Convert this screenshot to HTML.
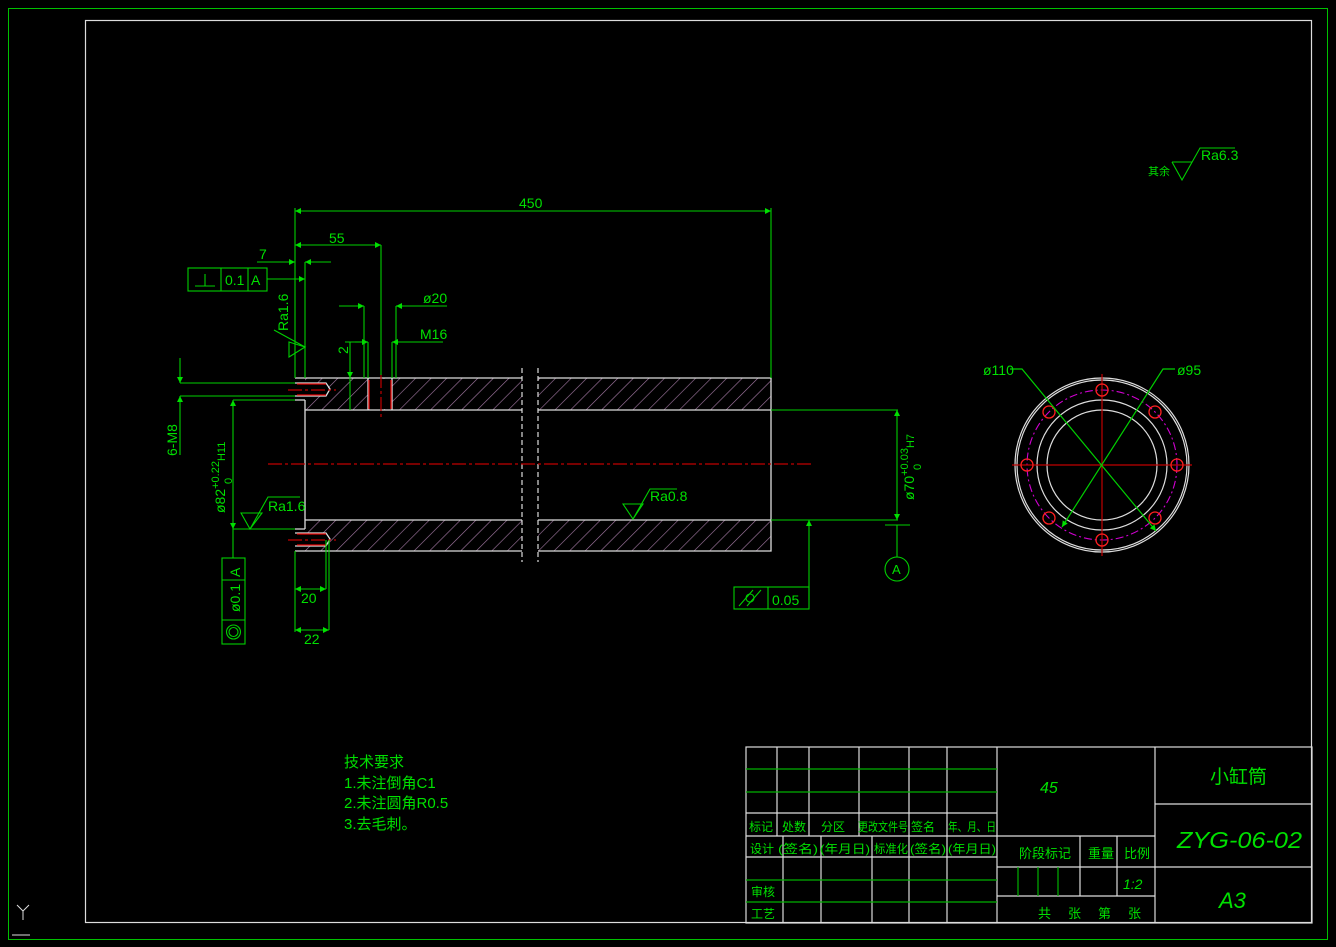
<!DOCTYPE html>
<html><head><meta charset="utf-8"><style>
html,body{margin:0;padding:0;background:#000;}
svg{display:block;}
text{font-family:"Liberation Sans","Noto Sans CJK SC",sans-serif;fill:#00e000;}
</style></head><body>
<svg width="1336" height="947" viewBox="0 0 1336 947" xmlns="http://www.w3.org/2000/svg">
<defs>
<pattern id="h" patternUnits="userSpaceOnUse" width="11" height="11" patternTransform="rotate(45)">
<line x1="0" y1="0" x2="0" y2="11" stroke="#a87ca8" stroke-width="1.2"/>
</pattern>
<marker id="a" viewBox="0 0 10 10" refX="10" refY="5" markerWidth="13" markerHeight="6" orient="auto-start-reverse" markerUnits="userSpaceOnUse"><path d="M0,0 L10,5 L0,10z" fill="#00e000"/></marker>
</defs>
<rect width="1336" height="947" fill="#000"/>
<rect x="8.5" y="8.5" width="1319" height="931" fill="none" stroke="#00c000" stroke-width="1"/>
<rect x="85.5" y="20.5" width="1226" height="902" fill="none" stroke="#ddd" stroke-width="1.2"/>
<g stroke="#ddd" stroke-width="1" fill="none"><path d="M17,905 L23,911 L29,905 M23,911 V920"/><path d="M12,935 H30"/></g>

<rect x="305" y="378" width="217" height="32" fill="url(#h)"/>
<rect x="538" y="378" width="233" height="32" fill="url(#h)"/>
<rect x="305" y="520" width="217" height="31" fill="url(#h)"/>
<rect x="538" y="520" width="233" height="31" fill="url(#h)"/>
<rect x="368" y="379" width="24" height="30" fill="#000"/>
<rect x="296" y="383" width="32" height="13" fill="#000"/>
<rect x="296" y="533" width="32" height="13" fill="#000"/>
<g stroke="#ddd" stroke-width="1.3" fill="none">
<path d="M295,378 H522 M538,378 H771 V551 H538 M522,551 H295 Z"/>
<path d="M305,400 V529 M305,410 H522 M538,410 H771 M305,520 H522 M538,520 H771"/>
<path d="M295,400 H305 M295,529 H305"/>
<path d="M368,378 V410 M392,378 V410"/>
<path d="M295,383 H326 L330,389 L326,396 H295 M295,533 H326 L330,539 L326,546 H295"/>
</g>
<g stroke="#ddd" stroke-width="1.2" stroke-dasharray="5,3"><path d="M522,368 V562 M538,368 V562"/></g>
<g stroke="#e00000" stroke-width="1.3">
<path d="M369,380 V409 M391,380 V409"/>
<path d="M297,384 H326 M297,395 H326 M297,534 H326 M297,545 H326"/>
</g>
<g stroke="#c00000" stroke-width="1.2" stroke-dasharray="14,3,3,3">
<path d="M268,464 H812"/><path d="M381,374 V418"/><path d="M288,390 H336 M288,540 H336"/>
</g>

<g stroke="#00d000" stroke-width="1.1" fill="none">
<path d="M295,208 V378 M771,208 V378"/>
<path d="M295,211 H771" marker-start="url(#a)" marker-end="url(#a)"/>
<path d="M295,245 H381" marker-start="url(#a)" marker-end="url(#a)"/>
<path d="M381,245 V375"/>
<path d="M257,262 H295" marker-end="url(#a)"/><path d="M331,262 H305" marker-end="url(#a)"/>
<path d="M305,262 V378"/>
<rect x="188" y="268" width="79" height="23"/><path d="M221,268 V291 M248,268 V291"/>
<path d="M195,286 H215 M205,274 V286"/>
<path d="M267,279 H305" marker-end="url(#a)"/>
<path d="M274,330 L305,347 M289,342 L305,347 L289,357 Z"/>
<path d="M339,306 H364" marker-end="url(#a)"/><path d="M447,306 H396" marker-end="url(#a)"/>
<path d="M364,306 V378 M396,306 V378"/>
<path d="M355,342 H368" marker-end="url(#a)"/><path d="M443,342 H392" marker-end="url(#a)"/>
<path d="M368,342 V378 M392,342 V378"/>
<path d="M345,342 H368"/>
<path d="M350,342 V378" marker-end="url(#a)"/><path d="M350,410 V378"/>
<path d="M180,358 V383" marker-end="url(#a)"/><path d="M180,455 V396" marker-end="url(#a)"/>
<path d="M180,383 H295 M180,396 H295"/>
<path d="M233,464 V400" marker-end="url(#a)"/><path d="M233,464 V529" marker-end="url(#a)"/>
<path d="M233,400 H295 M233,529 H295"/>
<path d="M233,529 V558"/>
<path d="M241,513 H262 L250,529 Z M250,529 L268,497 H300"/>
<rect x="222" y="558" width="23" height="86"/><path d="M222,580 H245 M222,620 H245"/>
<circle cx="233.5" cy="632" r="7"/><circle cx="233.5" cy="632" r="4.5"/>
<path d="M295,551 V632 M326,540 V589 M329,540 V630"/>
<path d="M295,589 H326" marker-start="url(#a)" marker-end="url(#a)"/>
<path d="M295,630 H329" marker-start="url(#a)" marker-end="url(#a)"/>
<path d="M771,410 H898 M771,520 H898"/>
<path d="M897,464 V410" marker-end="url(#a)"/><path d="M897,464 V520" marker-end="url(#a)"/>
<path d="M885,525 H910 M897,525 V557"/>
<circle cx="897" cy="569" r="12"/>
<path d="M809,600 V520" marker-end="url(#a)"/>
<rect x="734" y="587" width="75" height="22"/><path d="M768,587 V609"/>
<path d="M739,606 L753,590 M747,606 L761,590"/><circle cx="750" cy="598" r="4"/>
<path d="M623,504 H643 L633,519 Z M633,519 L650,489 H677"/>
<path d="M1172,162 L1182,180 L1200,148 H1235 M1172,162 H1192"/>
</g>
<g font-size="14">
<text x="519" y="208">450</text>
<text x="329" y="243">55</text>
<text x="259" y="259">7</text>
<text x="225" y="285">0.1</text>
<text x="251" y="285">A</text>
<text transform="translate(288,331) rotate(-90)">Ra1.6</text>
<text x="423" y="303">ø20</text>
<text x="420" y="339">M16</text>
<text transform="translate(348,354) rotate(-90)">2</text>
<text transform="translate(177,456) rotate(-90)">6-M8</text>
<text transform="translate(225,513) rotate(-90)">ø82<tspan font-size="11" dy="-6">+0.22</tspan><tspan font-size="11" dy="6">H11</tspan></text>
<text transform="translate(232,484) rotate(-90)" font-size="11">0</text>
<text x="268" y="511">Ra1.6</text>
<text transform="translate(240,612) rotate(-90)">ø0.1</text>
<text transform="translate(240,577) rotate(-90)">A</text>
<text x="301" y="603">20</text>
<text x="304" y="644">22</text>
<text transform="translate(914,500) rotate(-90)">ø70<tspan font-size="11" dy="-6">+0.03</tspan><tspan font-size="11" dy="6">H7</tspan></text>
<text transform="translate(921,470) rotate(-90)" font-size="11">0</text>
<text x="892" y="574" font-size="13">A</text>
<text x="772" y="605">0.05</text>
<text x="650" y="501">Ra0.8</text>
<text x="1201" y="160">Ra6.3</text>
<text x="1148" y="175" font-size="11">其余</text>
<text x="983" y="375">ø110</text>
<text x="1177" y="375">ø95</text>
</g>

<g fill="none">
<circle cx="1102" cy="465" r="87" stroke="#ddd" stroke-width="1.2"/>
<circle cx="1102" cy="465" r="85" stroke="#ddd" stroke-width="1.2"/>
<circle cx="1102" cy="465" r="65" stroke="#ddd" stroke-width="1.2"/>
<circle cx="1102" cy="465" r="55" stroke="#ddd" stroke-width="1.2"/>
<circle cx="1102" cy="465" r="75" stroke="#d000d0" stroke-width="1.1" stroke-dasharray="8,3,2,3"/>
<path d="M1012,465 H1192 M1102,374 V556" stroke="#c00000" stroke-width="1.2"/>
<g stroke="#ff2020" stroke-width="1.3">
<circle cx="1102" cy="390" r="6"/><circle cx="1102" cy="540" r="6"/>
<circle cx="1027" cy="465" r="6"/><circle cx="1177" cy="465" r="6"/>
<circle cx="1049" cy="412" r="6"/><circle cx="1155" cy="412" r="6"/>
<circle cx="1049" cy="518" r="6"/><circle cx="1155" cy="518" r="6"/>
</g>
<path d="M1010,369 H1022 L1156,531" stroke="#00d000" stroke-width="1.2" marker-end="url(#a)"/>
<path d="M1175,369 H1163 L1062,527" stroke="#00d000" stroke-width="1.2" marker-end="url(#a)"/>
</g>

<g font-size="15">
<text x="344" y="767">技术要求</text>
<text x="344" y="788">1.未注倒角C1</text>
<text x="344" y="808">2.未注圆角R0.5</text>
<text x="344" y="829">3.去毛刺。</text>
</g>

<g stroke="#ddd" stroke-width="1.2" fill="none">
<rect x="746" y="747" width="566" height="176"/>
<path d="M777,747 V836 M809,747 V836 M859,747 V836 M909,747 V836 M947,747 V836 M997,747 V923"/>
<path d="M783,836 V923 M821,836 V923 M872,836 V923 M909,836 V923 M947,836 V923"/>
<path d="M746,813 H997 M746,836 H1155 M746,857 H997"/>
<path d="M1155,747 V923 M1155,804 H1312 M1155,867 H1312"/>
<path d="M997,867 H1155 M997,896 H1155 M1080,836 V896 M1117,836 V896"/>
</g>
<g stroke="#00b000" stroke-width="1.2">
<path d="M746,769 H997 M746,792 H997 M746,880 H997 M746,902 H997"/>
<path d="M1018,867 V896 M1038,867 V896 M1058,867 V896"/>
</g>
<g font-size="12">
<text x="749" y="831">标记</text><text x="782" y="831">处数</text><text x="821" y="831">分区</text>
<text x="858" y="831" textLength="50" lengthAdjust="spacingAndGlyphs">更改文件号</text><text x="911" y="831">签名</text><text x="948" y="831" textLength="48" lengthAdjust="spacingAndGlyphs">年、月、日</text>
<text x="750" y="853">设计</text><text x="778" y="853" textLength="40" lengthAdjust="spacingAndGlyphs">(签名)</text><text x="820" y="853" textLength="50" lengthAdjust="spacingAndGlyphs">(年月日)</text>
<text x="874" y="853" textLength="34" lengthAdjust="spacingAndGlyphs">标准化</text><text x="910" y="853" textLength="36" lengthAdjust="spacingAndGlyphs">(签名)</text><text x="948" y="853" textLength="48" lengthAdjust="spacingAndGlyphs">(年月日)</text>
<text x="751" y="896">审核</text><text x="751" y="918">工艺</text>
<text x="1019" y="858" font-size="13">阶段标记</text><text x="1088" y="858" font-size="13">重量</text><text x="1124" y="858" font-size="13">比例</text>
<text x="1038" y="918" font-size="13" letter-spacing="2">共　张　第　张</text>
</g>
<text x="1040" y="793" font-size="16" font-style="italic">45</text>
<text x="1123" y="889" font-size="14" font-style="italic">1:2</text>
<text x="1210" y="783" font-size="19">小缸筒</text>
<text x="1177" y="848" font-size="23" font-style="italic" textLength="125" lengthAdjust="spacingAndGlyphs">ZYG-06-02</text>
<text x="1219" y="908" font-size="22" font-style="italic">A3</text>
</svg>
</body></html>
